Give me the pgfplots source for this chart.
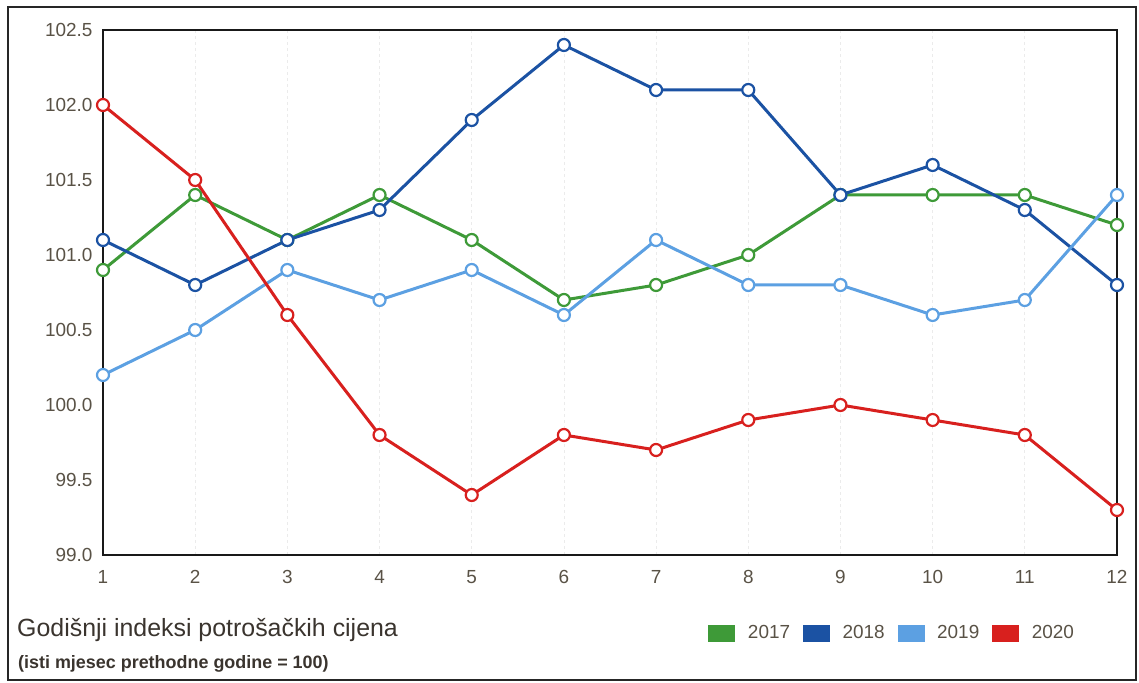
\documentclass[border=0pt]{standalone}
\usepackage{pgfplots}
\pgfplotsset{compat=1.18}
\usepackage{fontspec}
\setmainfont{Liberation Sans}
\definecolor{g17}{HTML}{3E9A38}
\definecolor{b18}{HTML}{1B52A3}
\definecolor{b19}{HTML}{5CA0E2}
\definecolor{r20}{HTML}{D8201E}
\definecolor{tick}{HTML}{595246}
\definecolor{ttl}{HTML}{3A342E}
\begin{document}
\begin{tikzpicture}
\path[use as bounding box] (0,0) rectangle (1139bp,683bp);
\draw[line width=2bp, black!85] (8bp,3bp) rectangle (1136bp,676bp);
\begin{axis}[
  at={(103bp,128bp)}, anchor=south west,
  scale only axis, width=1014bp, height=525bp,
  xmin=1, xmax=12, ymin=99, ymax=102.5,
  xtick={1,...,12}, ytick={99,99.5,...,102.5},
  yticklabel style={xshift=-7bp, /pgf/number format/fixed, /pgf/number format/fixed zerofill, /pgf/number format/precision=1},
  /pgf/number format/assume math mode=true,
  tick label style={font=\fontsize{19}{22}\selectfont, text=tick},
  xticklabel style={yshift=-12bp},
  major tick length=0pt,
  axis line style={line width=2.4bp, black!90},
  xmajorgrids, grid style={black!8, line width=0.8bp, dash pattern=on 3bp off 3bp},
  clip=false,
  every axis plot/.append style={line width=3bp, mark=*, mark size=6bp, mark options={fill=white, line width=2.2bp}},
  legend columns=4,
  legend style={at={(0.594,-0.1486)}, anchor=west, draw=none, fill=none,
    font=\fontsize{19}{22}\selectfont, text=tick,
    /tikz/every even column/.append style={column sep=11bp}},
  legend image code/.code={\fill[#1, draw=none, mark=none] (0bp,-8.5bp) rectangle (27bp,8.5bp); \path (36bp,0bp);},
]
\addplot[color=g17] coordinates {(1,100.9)(2,101.4)(3,101.1)(4,101.4)(5,101.1)(6,100.7)(7,100.8)(8,101.0)(9,101.4)(10,101.4)(11,101.4)(12,101.2)};
\addlegendentry{2017}
\addplot[color=b18] coordinates {(1,101.1)(2,100.8)(3,101.1)(4,101.3)(5,101.9)(6,102.4)(7,102.1)(8,102.1)(9,101.4)(10,101.6)(11,101.3)(12,100.8)};
\addlegendentry{2018}
\addplot[color=b19] coordinates {(1,100.2)(2,100.5)(3,100.9)(4,100.7)(5,100.9)(6,100.6)(7,101.1)(8,100.8)(9,100.8)(10,100.6)(11,100.7)(12,101.4)};
\addlegendentry{2019}
\addplot[color=r20] coordinates {(1,102.0)(2,101.5)(3,100.6)(4,99.8)(5,99.4)(6,99.8)(7,99.7)(8,99.9)(9,100.0)(10,99.9)(11,99.8)(12,99.3)};
\addlegendentry{2020}
\end{axis}
\node[anchor=base west, inner sep=0pt, text=ttl, font=\fontsize{25}{28}\selectfont] at (17bp,46bp) {Godišnji indeksi potrošačkih cijena};
\node[anchor=base west, inner sep=0pt, text=ttl, font=\bfseries\fontsize{18}{20}\selectfont] at (18bp,15bp) {(isti mjesec prethodne godine = 100)};
\end{tikzpicture}
\end{document}
